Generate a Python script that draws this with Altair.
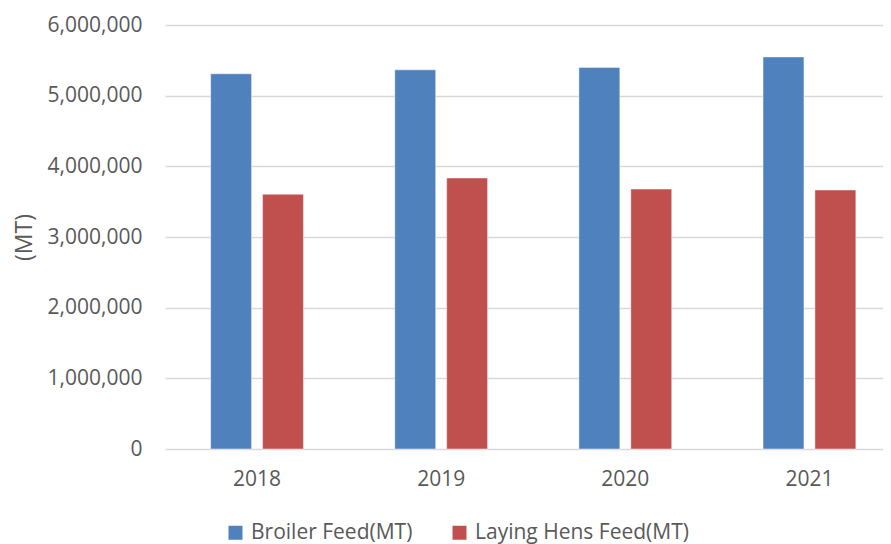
import altair as alt
import pandas as pd

years = ["2018", "2019", "2020", "2021"]
series = ["Broiler Feed(MT)", "Laying Hens Feed(MT)"]
broiler = [5310000, 5365000, 5400000, 5548000]
hens = [3605000, 3835000, 3678000, 3665000]
colors = ["#4F81BD", "#C0504D"]
y_ticks = [0, 1000000, 2000000, 3000000, 4000000, 5000000, 6000000]

rows = []
for i, yr in enumerate(years):
    rows.append({"year": yr, "series": series[0], "value": broiler[i]})
    rows.append({"year": yr, "series": series[1], "value": hens[i]})
df = pd.DataFrame(rows)

FONT = "Open Sans"
GREY = "#595959"

chart = alt.Chart(df).mark_bar(stroke="white", strokeOpacity=0.45, strokeWidth=1).encode(
    x=alt.X("year:N", sort=years, title=None,
            scale=alt.Scale(paddingInner=0.496, paddingOuter=0.1978, align=0.627),
            axis=alt.Axis(labelAngle=0, labelFont=FONT, labelFontSize=21, labelColor=GREY,
                          ticks=False, domain=False, labelPadding=19)),
    xOffset=alt.XOffset("series:N", sort=series,
                        scale=alt.Scale(paddingInner=0.2115, paddingOuter=0)),
    y=alt.Y("value:Q", title="(MT)",
            scale=alt.Scale(domain=[0, 6000000], nice=False),
            axis=alt.Axis(values=y_ticks, format=",d", labelFont=FONT, labelFontSize=21,
                          labelColor=GREY, ticks=False, domain=False, labelPadding=23,
                          gridColor="#D9D9D9", gridWidth=1.5,
                          titleFont=FONT, titleFontSize=23, titleFontWeight="normal",
                          titleColor=GREY, titlePadding=11)),
    color=alt.Color("series:N", sort=series,
                    scale=alt.Scale(domain=series, range=colors),
                    legend=alt.Legend(title=None, orient="none", direction="horizontal",
                                      legendX=60, legendY=497,
                                      symbolType="square", symbolSize=196, symbolStrokeWidth=0,
                                      labelFont=FONT, labelFontSize=21, labelColor=GREY,
                                      labelLimit=0, labelOffset=5, columnPadding=36)),
).properties(
    width=718, height=424,
    autosize=alt.AutoSizeParams(type="none"),
    padding={"left": 157, "top": 17, "right": 0, "bottom": 95},
).configure_view(stroke=None)

chart.save("out.html", embed_options={"renderer": "svg", "actions": False})
